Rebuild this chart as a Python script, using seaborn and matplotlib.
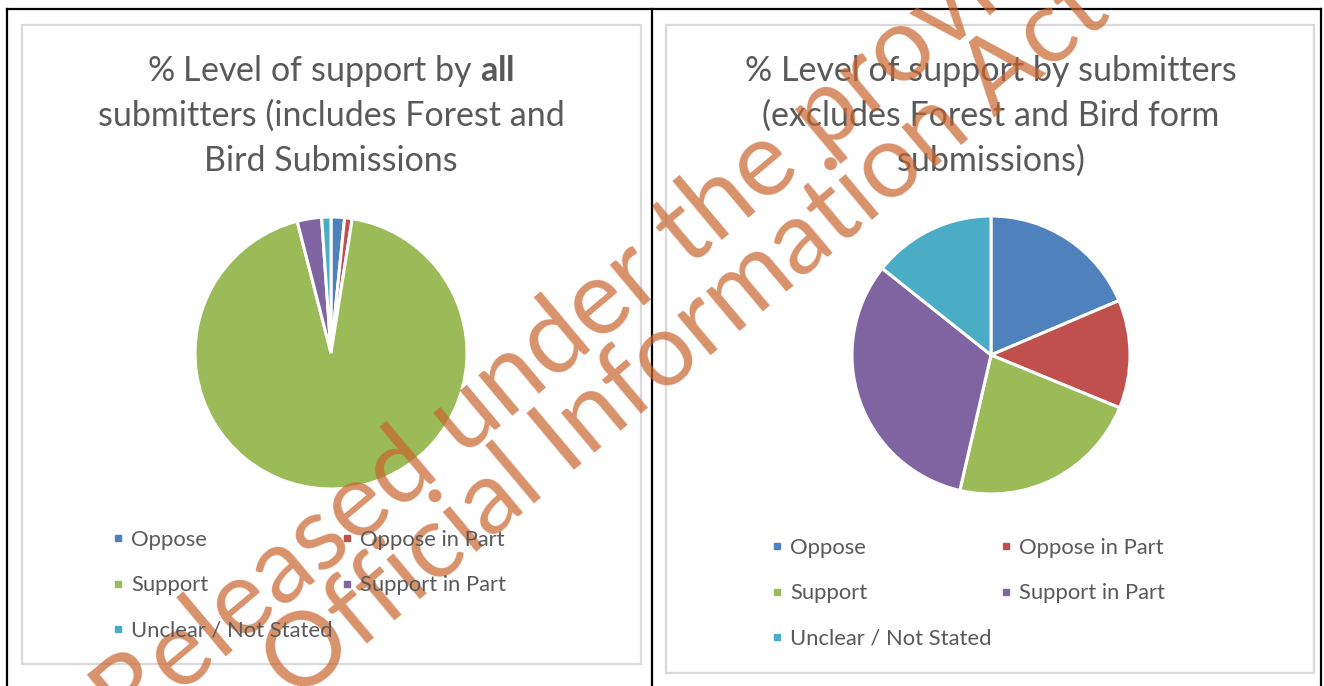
import matplotlib
matplotlib.use("Agg")
import matplotlib.pyplot as plt
import seaborn as sns
from matplotlib.lines import Line2D
from matplotlib.patches import Rectangle

# ---------------- data ----------------
categories = ["Oppose", "Oppose in Part", "Support", "Support in Part", "Unclear / Not Stated"]
all_values = [1.6, 0.9, 93.5, 2.9, 1.1]          # % incl. Forest and Bird submissions
excl_values = [18.6, 12.6, 22.4, 32.1, 14.3]     # % excl. Forest and Bird form submissions
colors = ["#4F81BD", "#C0504D", "#9BBB59", "#8064A2", "#4BACC6"]
title_left = ["% Level of support by $\\mathbf{all}$",
              "submitters (includes Forest and",
              "Bird Submissions"]
title_right = ["% Level of support by submitters",
               "(excludes Forest and Bird form",
               "submissions)"]
watermark = ["Released under the provisions", "of the Official Information Act"]

# ---------------- style ----------------
sns.set_theme(style="white")
FONT = "Lato"
plt.rcParams["font.family"] = [FONT, "DejaVu Sans"]
plt.rcParams["mathtext.fontset"] = "custom"
plt.rcParams["mathtext.rm"] = FONT
plt.rcParams["mathtext.bf"] = FONT + ":bold"
palette = sns.color_palette(colors)
TXT = "#595959"

W, H = 1324, 686
fig = plt.figure(figsize=(W / 100, H / 100), dpi=100)
fig.patch.set_facecolor("white")

def fx(x):
    return x / W

def fy(y):
    return 1 - y / H

# outer black frame
for (x0, y0, x1, y1) in [(7, 9, 1321, 9), (7, 9, 7, 686), (652, 9, 652, 686), (1321, 9, 1321, 686)]:
    fig.add_artist(Line2D([fx(x0), fx(x1)], [fy(y0), fy(y1)], color="black", lw=1.6,
                          transform=fig.transFigure, solid_capstyle="projecting"))

# inner grey chart boxes
for (x0, y0, x1, y1) in [(21.5, 24.5, 641, 664), (666, 24.5, 1314, 673)]:
    fig.add_artist(Rectangle((fx(x0), fy(y1)), fx(x1) - fx(x0), fy(y0) - fy(y1),
                             fill=False, edgecolor="#D9D9D9", lw=1.6, transform=fig.transFigure))

def draw_panel(values, cx, cy, r, title, tcx, legend_xy):
    lim = 1.02
    rr = r * lim
    ax = fig.add_axes([fx(cx - rr), fy(cy + rr), 2 * rr / W, 2 * rr / H])
    ax.pie(values, colors=palette, startangle=90, counterclock=False,
           wedgeprops=dict(edgecolor="white", linewidth=2.2))
    ax.set_xlim(-lim, lim)
    ax.set_ylim(-lim, lim)
    ax.set_aspect("equal")
    ax.axis("off")
    # titles
    for i, line in enumerate(title):
        fig.text(fx(tcx), fy(71 + 45 * i), line, ha="center", va="center",
                 fontsize=24.5, color=TXT)
    # legend (row-wise order via column-major reordering)
    order = [0, 2, 4, 1, 3]
    handles = [Line2D([], [], marker="s", linestyle="none", markersize=5,
                      markerfacecolor=palette[k], markeredgecolor=palette[k]) for k in order]
    labels = [categories[k] for k in order]
    fig.legend(handles, labels, ncol=2, loc="upper left",
               bbox_to_anchor=(fx(legend_xy[0]), fy(legend_xy[1])),
               frameon=False, fontsize=15.8, labelcolor=TXT,
               handlelength=0.5, handletextpad=0.34, columnspacing=0.39,
               labelspacing=1.15, borderpad=0, borderaxespad=0)

draw_panel(all_values, 331, 353, 136, title_left, 331, (113, 530))
draw_panel(excl_values, 991, 355, 139, title_right, 991, (772, 538))

# watermark
wm_color = "#C8642D"
fig.text(fx(128), fy(738), watermark[0], rotation=40, rotation_mode="anchor",
         ha="left", va="baseline", fontsize=75, color=wm_color, alpha=0.7)
fig.text(fx(70), fy(893), watermark[1], rotation=40, rotation_mode="anchor",
         ha="left", va="baseline", fontsize=74, color=wm_color, alpha=0.7)

fig.savefig("out.png", dpi=100)
